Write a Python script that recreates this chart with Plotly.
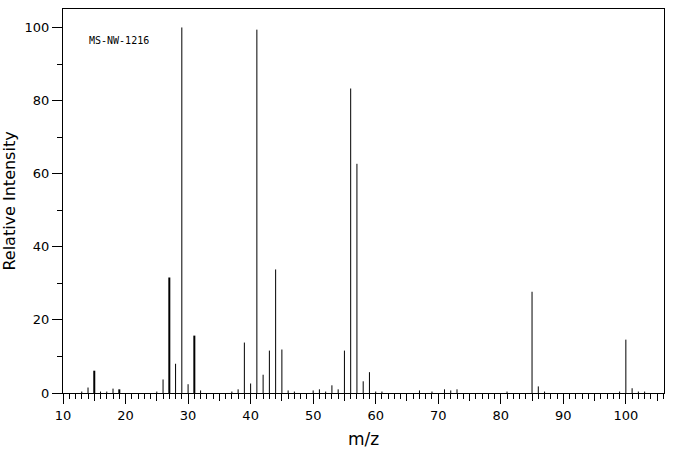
import plotly.graph_objects as go

# m/z values and relative intensities
mz = [13, 14, 15, 16, 17, 18, 19, 25, 26, 27, 28, 29, 30, 31, 32,
      37, 38, 39, 40, 41, 42, 43, 44, 45, 46, 47,
      50, 51, 52, 53, 54, 55, 56, 57, 58, 59, 60, 61,
      67, 69, 71, 72, 73, 81, 85, 86, 87, 99, 100, 101, 102, 103]
intensity = [0.4, 1.5, 6.1, 0.4, 0.4, 1.2, 1.0, 0.4, 3.7, 31.6, 8.0, 100.0, 2.4, 15.7, 0.7,
             0.4, 1.0, 13.8, 2.6, 99.4, 5.0, 11.6, 33.8, 11.9, 0.7, 0.4,
             0.7, 1.0, 0.4, 2.1, 1.0, 11.6, 83.3, 62.7, 3.2, 5.7, 0.4, 0.4,
             0.7, 0.4, 1.0, 0.7, 1.0, 0.4, 27.7, 1.8, 0.4, 0.4, 14.6, 1.3, 0.4, 0.4]
thick_mz = [15, 19, 27, 31]

x_range = [10, 106.1]
y_range = [0, 105.05]
x_major_ticks = [10, 20, 30, 40, 50, 60, 70, 80, 90, 100]
x_mid_ticks = [15, 25, 35, 45, 55, 65, 75, 85, 95, 105]
y_major_ticks = [0, 20, 40, 60, 80, 100]
label = "MS-NW-1216"


def stick_coords(xs, ys):
    sx, sy = [], []
    for a, b in zip(xs, ys):
        sx += [a, a, None]
        sy += [0, b, None]
    return sx, sy


thin_x = [m for m in mz if m not in thick_mz]
thin_y = [v for m, v in zip(mz, intensity) if m not in thick_mz]
thk_x = [m for m in mz if m in thick_mz]
thk_y = [v for m, v in zip(mz, intensity) if m in thick_mz]

fig = go.Figure()
sx, sy = stick_coords(thin_x, thin_y)
fig.add_trace(go.Scatter(x=sx, y=sy, mode="lines",
                         line=dict(color="black", width=1), hoverinfo="skip"))
sx, sy = stick_coords(thk_x, thk_y)
fig.add_trace(go.Scatter(x=sx, y=sy, mode="lines",
                         line=dict(color="black", width=2), hoverinfo="skip"))
# invisible trace to activate the secondary x axis (mid ticks at 5s)
fig.add_trace(go.Scatter(x=[None], y=[None], xaxis="x2", yaxis="y",
                         mode="lines", hoverinfo="skip"))

font_ticks = dict(family="DejaVu Sans", size=13, color="black")

fig.update_layout(
    width=676, height=455,
    margin=dict(l=63, r=12, t=9, b=62),
    paper_bgcolor="white", plot_bgcolor="white",
    showlegend=False,
    xaxis=dict(
        range=x_range, tickvals=x_major_ticks,
        ticks="outside", ticklen=10, tickwidth=1, tickcolor="black",
        showline=True, linecolor="black", linewidth=1, mirror=True,
        showgrid=False, zeroline=False, tickfont=font_ticks,
        minor=dict(dtick=1, tick0=10, ticks="outside", ticklen=5,
                   tickwidth=1, tickcolor="black", showgrid=False),
        title=dict(text="m/z", font=dict(family="DejaVu Sans", size=17, color="black"),
                   standoff=11),
        automargin=False,
    ),
    xaxis2=dict(
        range=x_range, overlaying="x", anchor="y", side="bottom",
        tickvals=x_mid_ticks, ticks="outside", ticklen=7, tickwidth=1,
        tickcolor="black", showticklabels=False, showgrid=False,
        zeroline=False, showline=False,
    ),
    yaxis=dict(
        range=y_range, tickvals=y_major_ticks,
        ticks="outside", ticklen=10, tickwidth=1, tickcolor="black",
        showline=True, linecolor="black", linewidth=1, mirror=True,
        showgrid=False, zeroline=False, tickfont=font_ticks,
        minor=dict(dtick=10, tick0=0, ticks="outside", ticklen=5,
                   tickwidth=1, tickcolor="black", showgrid=False),
        title=dict(text="Relative Intensity",
                   font=dict(family="DejaVu Sans", size=16, color="black"),
                   standoff=5),
        automargin=False,
    ),
    annotations=[dict(text=label, xref="paper", yref="paper",
                      x=0.04, y=0.917, xanchor="left", yanchor="middle",
                      showarrow=False,
                      font=dict(family="DejaVu Sans Mono", size=10, color="black"))],
)

fig.write_html("out.html")
